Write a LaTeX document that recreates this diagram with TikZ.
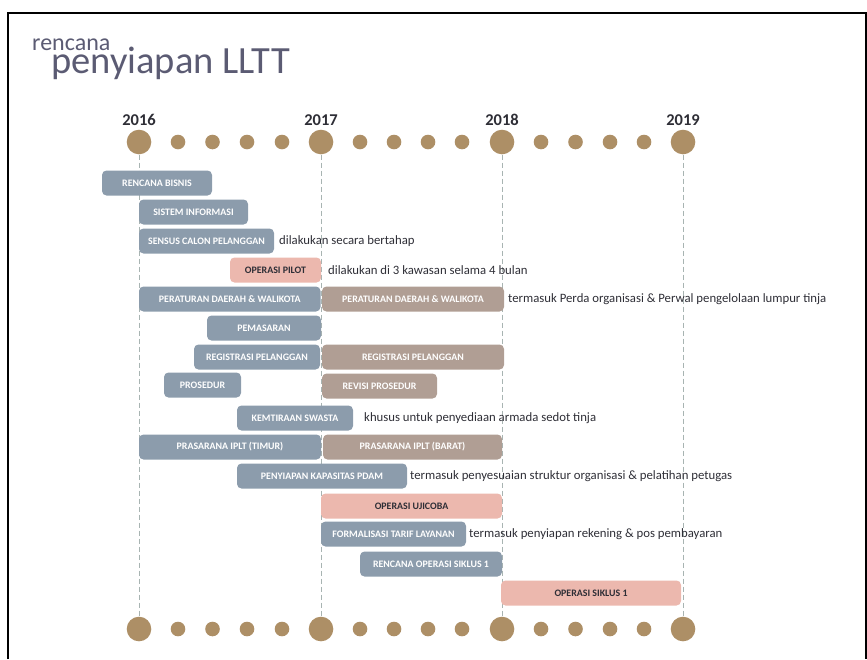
\documentclass[tikz,border=0pt]{standalone}
\usepackage{fontspec}
\setmainfont{Carlito}
\definecolor{dotc}{HTML}{AD8F66}
\definecolor{blueb}{HTML}{8C9CAC}
\definecolor{brownb}{HTML}{B09E94}
\definecolor{pinkb}{HTML}{ECB8AE}
\definecolor{titlec}{HTML}{5B5B73}
\definecolor{anno}{HTML}{2E2E36}
\definecolor{dashc}{HTML}{A8B4B2}
\begin{document}
\begin{tikzpicture}[x=1pt,y=-1pt,
  bigdot/.style={circle,fill=dotc,inner sep=0pt,minimum size=24.6pt},
  smalldot/.style={circle,fill=dotc,inner sep=0pt,minimum size=14.6pt},
  barbase/.style={rounded corners=4.5pt,minimum height=25pt,inner sep=0pt,font=\fontsize{9.9}{10}\selectfont\bfseries},
  bluebar/.style={barbase,fill=blueb,text=white},
  brownbar/.style={barbase,fill=brownb,text=white},
  pinkbar/.style={barbase,fill=pinkb,text=anno},
  annot/.style={anchor=west,inner sep=0pt,text=anno,font=\fontsize{12.75}{14}\selectfont},
  yearlbl/.style={anchor=base,inner sep=0pt,text=anno,font=\fontsize{16.5}{18}\selectfont\bfseries},
  guide/.style={draw=dashc,line width=1pt,dash pattern=on 5pt off 3pt},
  frame/.style={line width=2pt,black}]
\useasboundingbox (0,0) rectangle (867,659);
\draw[frame] (8,659) -- (8,12.5) -- (866,12.5) -- (866,659);
% title
\node[anchor=base west,inner sep=0pt,text=titlec,font=\fontsize{24}{26}\selectfont] (t1) at (32,50) {rencana};
\node[anchor=base west,inner sep=0pt,text=titlec,font=\fontsize{38.5}{40}\selectfont] (t2) at (51,73) {penyiapan LLTT};
% years
\foreach \n/\x in {16/139,17/321,18/502,19/683}{
  \node[bigdot] (y\n t) at (\x,142) {};
  \node[bigdot] (y\n b) at (\x,629) {};
  \node[yearlbl] (l\n) at (\x,125) {20\n};
  \draw[guide] (y\n t) -- (y\n b);
}
\foreach \x [count=\i] in {178,212.5,247,282,360,394,428,462,541,575.5,610,644}{
  \node[smalldot] (st\i) at (\x,142) {};
  \node[smalldot] (sb\i) at (\x,629) {};
}
% bars: name, x1, x2, yc, style, text
\newcommand{\gbar}[6]{\node[#5,minimum width={#3-#2}] (#1) at ({(#2+#3)/2},#4) {#6};}
\gbar{b1}{102}{212}{183}{bluebar}{RENCANA BISNIS}
\gbar{b2}{139}{248}{212}{bluebar}{SISTEM INFORMASI}
\gbar{b3}{139}{274}{241}{bluebar}{SENSUS CALON PELANGGAN}
\node[annot] (a3) at (279,241) {dilakukan secara bertahap};
\gbar{b4}{230}{321}{270}{pinkbar}{OPERASI PILOT}
\node[annot] (a4) at (328,270) {dilakukan di 3 kawasan selama 4 bulan};
\gbar{b5}{139}{320.5}{299}{bluebar}{PERATURAN DAERAH \& WALIKOTA}
\gbar{b5b}{322}{504}{299}{brownbar}{PERATURAN DAERAH \& WALIKOTA}
\node[annot] (a5) at (508,299) {termasuk Perda organisasi \& Perwal pengelolaan lumpur tinja};
\gbar{b6}{207}{321}{328}{bluebar}{PEMASARAN}
\gbar{b7}{194}{320}{357}{bluebar}{REGISTRASI PELANGGAN}
\gbar{b7b}{322}{504}{357}{brownbar}{REGISTRASI PELANGGAN}
\gbar{b8}{164}{241}{385}{bluebar}{PROSEDUR}
\gbar{b8b}{322}{437}{386}{brownbar}{REVISI PROSEDUR}
\gbar{b9}{237}{353}{418}{bluebar}{KEMTIRAAN SWASTA}
\node[annot] (a9) at (364,418) {khusus untuk penyediaan armada sedot tinja};
\gbar{b10}{139}{321}{447}{bluebar}{PRASARANA IPLT (TIMUR)}
\gbar{b10b}{323}{502}{447}{brownbar}{PRASARANA IPLT (BARAT)}
\gbar{b11}{237}{407}{476}{bluebar}{PENYIAPAN KAPASITAS PDAM}
\node[annot] (a11) at (410,476) {termasuk penyesuaian struktur organisasi \& pelatihan petugas};
\gbar{b12}{321}{502}{506}{pinkbar}{OPERASI UJICOBA}
\gbar{b13}{321}{466}{534}{bluebar}{FORMALISASI TARIF LAYANAN}
\node[annot] (a13) at (469,534) {termasuk penyiapan rekening \& pos pembayaran};
\gbar{b14}{360}{502}{564}{bluebar}{RENCANA OPERASI SIKLUS 1}
\gbar{b15}{501}{681}{593}{pinkbar}{OPERASI SIKLUS 1}
\end{tikzpicture}
\end{document}
